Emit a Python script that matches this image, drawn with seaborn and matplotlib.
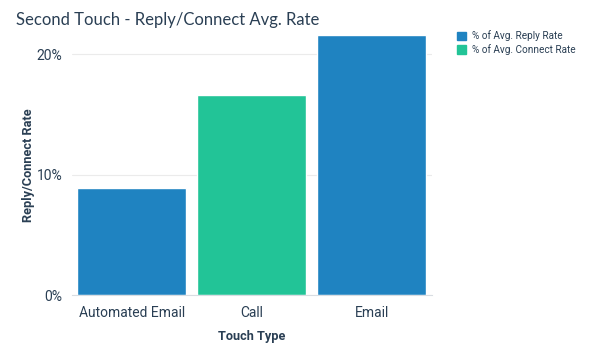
import seaborn as sns
import pandas as pd
import numpy as np
import matplotlib.pyplot as plt
from matplotlib.ticker import PercentFormatter
from matplotlib.patches import Patch

# data
touch_types = ["Automated Email", "Call", "Email"]
rates = [8.9, 16.6, 21.6]
series = ["% of Avg. Reply Rate", "% of Avg. Connect Rate", "% of Avg. Reply Rate"]

df = pd.DataFrame({"touch": touch_types, "rate": rates, "series": series})

blue = "#1f83c1"
green = "#22c497"
text_col = "#2a3f54"
palette = {"% of Avg. Reply Rate": blue, "% of Avg. Connect Rate": green}

sns.set_style("white")
plt.rcParams["font.family"] = ["Roboto", "DejaVu Sans"]

fig = plt.figure(figsize=(5.89, 3.59), dpi=100)
ax = fig.add_axes([0.122, 0.178, 0.611, 0.725])

sns.barplot(data=df, x="touch", y="rate", hue="series", palette=palette,
            dodge=False, width=0.91, saturation=1, legend=False, ax=ax)

ax.set_ylim(0, 21.6)
ax.set_yticks([0, 10, 20])
ax.yaxis.set_major_formatter(PercentFormatter(decimals=0))
ax.grid(axis="y", color="#ebebeb", linewidth=0.8)
ax.set_axisbelow(True)
for s in ["top", "right", "left"]:
    ax.spines[s].set_visible(False)
ax.spines["bottom"].set_color("#d9dde2")
ax.tick_params(axis="y", length=5, color="#d9dde2", labelsize=10, labelcolor=text_col, pad=2)
ax.tick_params(axis="x", length=4, color="#d9dde2", labelsize=10, labelcolor=text_col, pad=4)

ax.set_xlabel("Touch Type", fontsize=9.2, fontweight="bold", color=text_col, labelpad=7)
ax.set_ylabel("Reply/Connect Rate", fontsize=9.2, fontweight="bold", color=text_col, labelpad=1)

fig.text(0.027, 0.945, "Second Touch - Reply/Connect Avg. Rate", fontsize=12,
         color=text_col, family=["Lato", "DejaVu Sans"], va="center")

handles = [Patch(color=blue, label="% of Avg. Reply Rate"),
           Patch(color=green, label="% of Avg. Connect Rate")]
fig.legend(handles=handles, loc="upper left", bbox_to_anchor=(0.76, 0.94),
           frameon=False, fontsize=7.2, handlelength=0.9, handleheight=0.9,
           handletextpad=0.6, labelspacing=0.25, labelcolor=text_col)

fig.savefig("out.png", dpi=100)
